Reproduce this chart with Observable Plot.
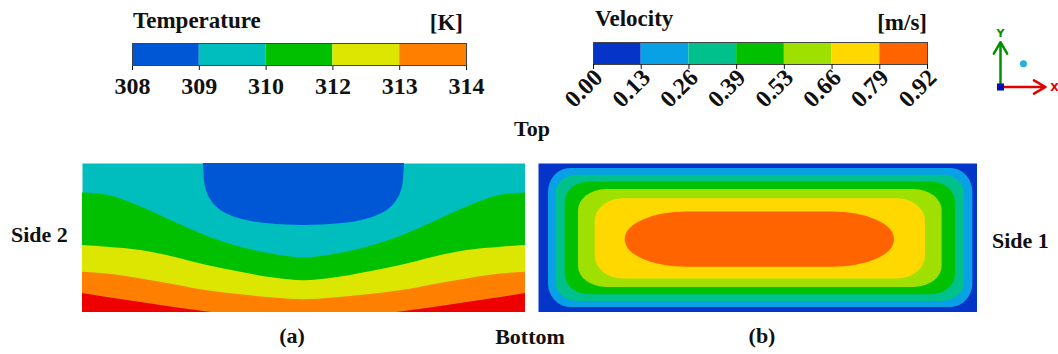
<!DOCTYPE html>
<html><head><meta charset="utf-8">
<script src="https://cdn.jsdelivr.net/npm/d3@7"></script>
<script src="https://cdn.jsdelivr.net/npm/@observablehq/plot@0.6"></script>
<style>
body{margin:0;background:#fff;}
#fig{position:relative;width:1058px;height:354px;overflow:hidden;background:#fff;}
.lbl{position:absolute;font:bold 22px "Liberation Serif","DejaVu Serif",serif;line-height:1;white-space:nowrap;color:#111;}
.abs{position:absolute;overflow:visible;}
</style></head><body><div id="fig"></div>
<script>
// ---------- data ----------
const tempTicks = [308, 309, 310, 312, 313, 314];
const tempColors = ["#0057d6", "#00bebe", "#00c000", "#dce600", "#ff8000"];
const tempBeyondColor = "#ee0000";
const velTicks = ["0.00", "0.13", "0.26", "0.39", "0.53", "0.66", "0.79", "0.92"];
const velColors = ["#0434c8", "#08a1e6", "#00c08c", "#00c000", "#9fe000", "#ffd800", "#ff6400"];

// panel (a): isotherm boundaries (depth from top, 0..1) across width u (0..1)
const aU          = [0, 0.056, 0.132, 0.207, 0.282, 0.357, 0.432, 0.5, 0.568, 0.643, 0.718, 0.793, 0.868, 0.944, 1];
const aCyanGreen  = [0.198, 0.213, 0.292, 0.393, 0.490, 0.562, 0.611, 0.634, 0.611, 0.562, 0.490, 0.393, 0.292, 0.213, 0.198];
const aGreenYel   = [0.551, 0.562, 0.584, 0.629, 0.685, 0.730, 0.769, 0.787, 0.769, 0.730, 0.685, 0.629, 0.584, 0.562, 0.551];
const aYelOrange  = [0.730, 0.742, 0.775, 0.813, 0.854, 0.881, 0.903, 0.915, 0.903, 0.881, 0.854, 0.813, 0.775, 0.742, 0.730];
const aOrangeRed  = [0.872, 0.899, 0.933, 0.966, 0.996, 1.03, 1.06, 1.07, 1.06, 1.03, 0.996, 0.966, 0.933, 0.899, 0.872];
const capU     = [0.273, 0.276, 0.282, 0.292, 0.31, 0.335, 0.37, 0.42, 0.5, 0.58, 0.63, 0.665, 0.69, 0.708, 0.718, 0.724, 0.727];
const capDepth = [0, 0.13, 0.20, 0.255, 0.31, 0.35, 0.382, 0.405, 0.416, 0.405, 0.382, 0.35, 0.31, 0.255, 0.20, 0.13, 0];

// panel (b): velocity contour levels (outer extents, fractions of panel)
const velX1 = [0.0228, 0.0403, 0.0608, 0.0912, 0.1292, 0.1976];
const velX2 = [0.9894, 0.9704, 0.9498, 0.9194, 0.8815, 0.8108];
const velY1 = [0.0337, 0.0787, 0.1236, 0.1753, 0.2360, 0.3258];
const velY2 = [0.9663, 0.9258, 0.8809, 0.8315, 0.7753, 0.6966];

// coordinate-system icon
const iconAxes = [{x1: 0, y1: 0, x2: 1, y2: 0, c: "#e00000", t: "X", tx: 1.2, ty: 0},
                  {x1: 0, y1: 0, x2: 0, y2: 1, c: "#009000", t: "Y", tx: 0, ty: 1.19}];
const iconOrigin = [{x: 0, y: 0}];
const iconDot = [{x: 0.51, y: 0.52}];

// ---------- styles (kept apart from data) ----------
const velRx = [22, 22, 25, 28, 28, 62];
const velRy = [24, 18, 20, 21, 23, 27];
const fontStyle = {fontFamily: '"Liberation Serif","DejaVu Serif",serif', fontWeight: "bold", fontSize: "24px", color: "#111", overflow: "visible", background: "transparent"};

const fig = document.getElementById("fig");
function place(el, left, top) { el.classList.add("abs"); el.style.left = left + "px"; el.style.top = top + "px"; fig.appendChild(el); }
function label(text, left, top, align, size) {
  const d = document.createElement("div"); d.className = "lbl"; d.textContent = text;
  d.style.top = top + "px";
  if (size) d.style.fontSize = size + "px";
  if (align === "center") { d.style.left = left + "px"; d.style.transform = "translateX(-50%)"; }
  else if (align === "right") { d.style.right = (1058 - left) + "px"; }
  else d.style.left = left + "px";
  fig.appendChild(d);
}

// ---------- temperature legend ----------
const tempBands = tempColors.map((c, i) => ({i, c}));
place(Plot.plot({
  width: 374, height: 100, marginLeft: 20, marginRight: 20, marginTop: 43, marginBottom: 35,
  style: fontStyle,
  color: {type: "identity"},
  x: {domain: [0, tempColors.length], ticks: d3.range(tempTicks.length), tickFormat: i => tempTicks[i], tickSize: 5, tickPadding: 6, label: null},
  y: {domain: [0, 1], axis: null},
  marks: [
    Plot.rect(tempBands, {x1: "i", x2: d => d.i + 1, y1: () => 0, y2: () => 1, fill: "c"}),
    Plot.frame({stroke: "#444"})
  ]
}), 112, 0);

// ---------- velocity legend ----------
const velBands = velColors.map((c, i) => ({i, c}));
place(Plot.plot({
  width: 394, height: 124, marginLeft: 30, marginRight: 30, marginTop: 42, marginBottom: 60,
  style: fontStyle,
  color: {type: "identity"},
  x: {domain: [0, velColors.length], axis: null, label: null},
  y: {domain: [0, 1], axis: null},
  marks: [
    Plot.rect(velBands, {x1: "i", x2: d => d.i + 1, y1: () => 0, y2: () => 1, fill: "c"}),
    Plot.frame({stroke: "#444"}),
    Plot.axisX({ticks: d3.range(velTicks.length), tickSize: 5, tickFormat: () => "", label: null}),
    Plot.axisX({ticks: d3.range(velTicks.length), tickSize: 0, tickPadding: 9, tickRotate: -45, tickFormat: i => velTicks[i], dx: 5, label: null})
  ]
}), 563, 0);

// ---------- coordinate icon ----------
place(Plot.plot({
  width: 68, height: 70, marginLeft: 10, marginRight: 13, marginTop: 16.7, marginBottom: 8.5,
  style: {fontFamily: '"DejaVu Sans",sans-serif', fontSize: "11px", overflow: "visible", background: "transparent"},
  color: {type: "identity"},
  x: {domain: [0, 1], axis: null},
  y: {domain: [0, 1], axis: null},
  marks: [
    Plot.arrow(iconAxes, {x1: "x1", y1: "y1", x2: "x2", y2: "y2", stroke: "c", strokeWidth: 2.5, headLength: 8}),
    Plot.text(iconAxes, {x: "tx", y: "ty", text: "t", fill: "c", fontWeight: "bold"}),
    Plot.dot(iconOrigin, {x: "x", y: "y", symbol: "square", r: 4, fill: "#0010b0"}),
    Plot.dot(iconDot, {x: "x", y: "y", r: 3.5, fill: "#20b4d8"})
  ]
}), 990, 25);

// ---------- panel (a): temperature ----------
const aRows = aU.map((u, i) => ({u, b1: aCyanGreen[i], b2: aGreenYel[i], b3: aYelOrange[i], b4: aOrangeRed[i]}));
const capRows = capU.map((u, i) => ({u, d: capDepth[i]}));
const band = (key, fill) => Plot.areaY(aRows, {x: "u", y1: key, y2: () => 1, fill, curve: "monotone-x"});
place(Plot.plot({
  width: 443, height: 149, margin: 0,
  style: {overflow: "hidden", background: "transparent"},
  x: {domain: [0, 1], axis: null},
  y: {domain: [0, 1], reverse: true, axis: null},
  clip: true,
  marks: [
    Plot.frame({fill: tempColors[1], stroke: null}),
    band("b1", tempColors[2]),
    band("b2", tempColors[3]),
    band("b3", tempColors[4]),
    band("b4", tempBeyondColor),
    Plot.areaY(capRows, {x: "u", y1: () => 0, y2: "d", fill: tempColors[0], curve: "monotone-x"})
  ]
}), 82, 163);

// ---------- panel (b): velocity ----------
const levels = velX1.map((x1, i) => ({x1, x2: velX2[i], y1: velY1[i], y2: velY2[i], c: velColors[i + 1]}));
place(Plot.plot({
  width: 439, height: 149, margin: 0,
  style: {overflow: "hidden", background: "transparent"},
  color: {type: "identity"},
  x: {domain: [0, 1], axis: null},
  y: {domain: [0, 1], reverse: true, axis: null},
  marks: [
    Plot.frame({fill: velColors[0], stroke: null}),
    ...levels.map((d, i) => Plot.rect([d], {x1: "x1", x2: "x2", y1: "y1", y2: "y2", fill: "c", rx: velRx[i], ry: velRy[i]}))
  ]
}), 538, 163);

// ---------- text ----------
label("Temperature", 133, 9, "left", 23);
label("[K]", 463, 11, "right", 23);
label("Velocity", 595, 7, "left", 23);
label("[m/s]", 927, 11, "right", 23);
label("Top", 532, 118, "center");
label("Side 2", 11, 224, "left");
label("Side 1", 992, 230, "left");
label("(a)", 292, 325, "center");
label("Bottom", 530, 326, "center");
label("(b)", 762, 325, "center");
</script></body></html>
